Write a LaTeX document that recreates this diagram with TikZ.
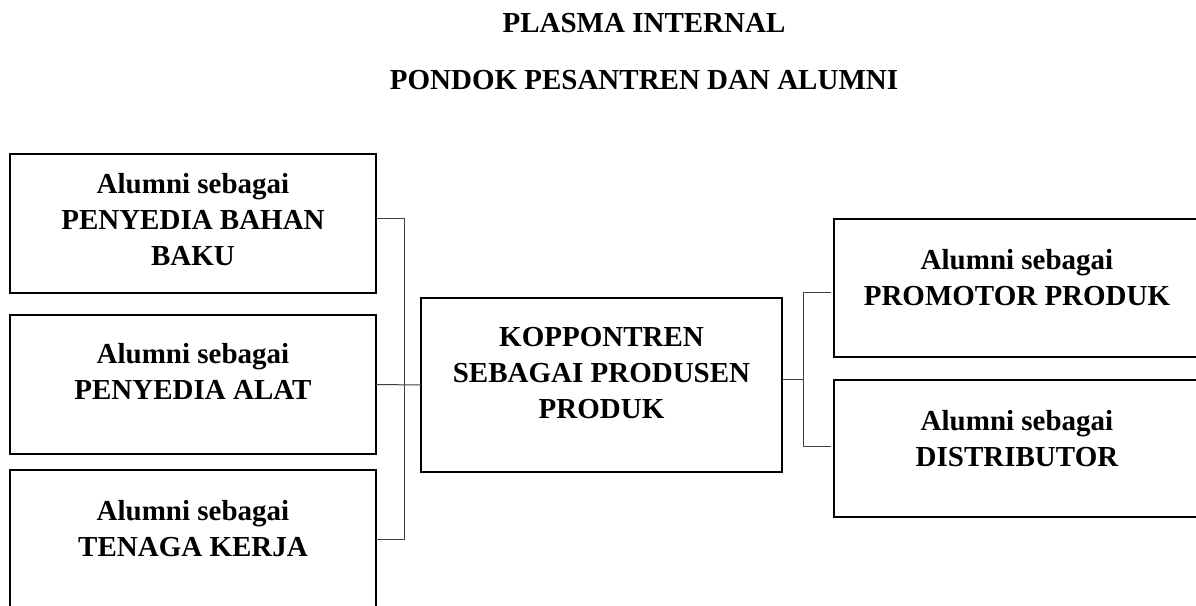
\documentclass[tikz,border=0pt]{standalone}
\usepackage{fontspec}
\setmainfont{Liberation Serif}
\begin{document}
\begin{tikzpicture}[x=0.75pt,y=-0.75pt,
  box/.style={draw=black,line width=1.5pt,rectangle,inner sep=0pt,outer sep=0pt},
  lbl/.style={anchor=north,align=center,inner sep=0pt,
    font=\fontsize{21.75pt}{27pt}\selectfont\bfseries},
  ttl/.style={anchor=base,inner sep=0pt,font=\fontsize{21.75pt}{27pt}\selectfont\bfseries},
  conn/.style={draw=black!75,line width=0.75pt}]
\useasboundingbox (0,0) rectangle (1196,606);
\clip (0,0) rectangle (1196,606);

% titles
\node[ttl] (title1) at (644,33) {PLASMA INTERNAL};
\node[ttl] (title2) at (644,90) {PONDOK PESANTREN DAN ALUMNI};

% boxes
\node[box,minimum width=366*0.75pt,minimum height=139*0.75pt] (L1) at (193,223.5) {};
\node[box,minimum width=366*0.75pt,minimum height=139*0.75pt] (L2) at (193,384.5) {};
\node[box,minimum width=366*0.75pt,minimum height=139*0.75pt] (L3) at (193,539.5) {};
\node[box,minimum width=361*0.75pt,minimum height=174*0.75pt] (C) at (601.5,385) {};
\node[box,minimum width=366*0.75pt,minimum height=138*0.75pt] (R1) at (1017,288) {};
\node[box,minimum width=366*0.75pt,minimum height=137*0.75pt] (R2) at (1017,448.5) {};

% texts
\node[lbl] (t1) at (193,167.8) {\strut Alumni sebagai\\PENYEDIA BAHAN\\BAKU};
\node[lbl] (t2) at (193,337.8) {\strut Alumni sebagai\\PENYEDIA ALAT};
\node[lbl] (t3) at (193,494.8) {\strut Alumni sebagai\\TENAGA KERJA};
\node[lbl] (tc) at (601.5,320.8) {\strut KOPPONTREN\\SEBAGAI PRODUSEN\\PRODUK};
\node[lbl] (tr1) at (1017,243.8) {\strut Alumni sebagai\\PROMOTOR PRODUK};
\node[lbl] (tr2) at (1017,404.8) {\strut Alumni sebagai\\DISTRIBUTOR};

% junctions
\coordinate (jl) at (404,384.5);
\coordinate (jr) at (803,379);

% connectors
\draw[conn] ([yshift=3.375pt]L1.east) -| (jl);
\draw[conn] (L3.east) -| (jl);
\draw[conn] (L2.east) -- (C.west);
\draw[conn] ([yshift=4.5pt]C.east) -- (jr);
\draw[conn,shorten <=2.25pt] ([yshift=-3pt]R1.west) -| (jr);
\draw[conn,shorten <=2.25pt] ([yshift=1.875pt]R2.west) -| (jr);
\end{tikzpicture}
\end{document}
